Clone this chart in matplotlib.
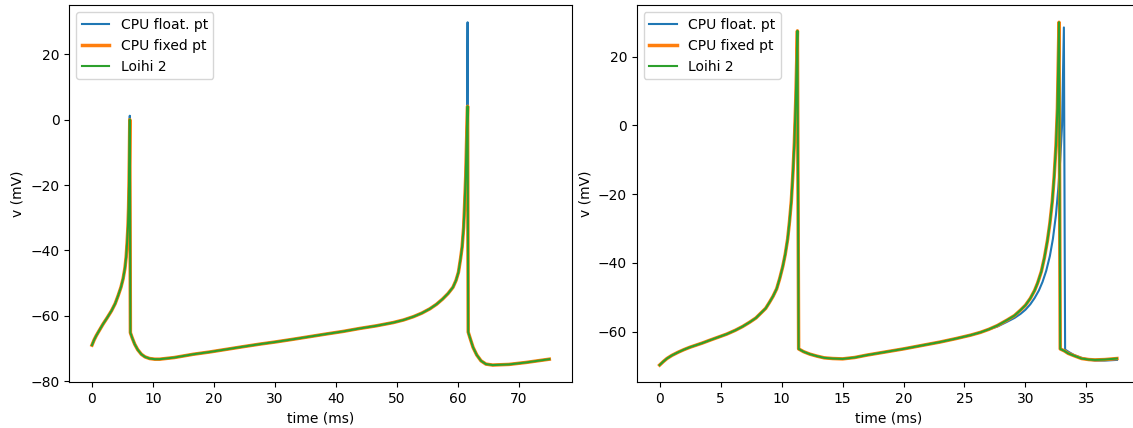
import matplotlib.pyplot as plt

# left panel: first input current
t_left = [0, 0.35, 0.7, 1.2, 1.8, 2.5, 3.2, 3.8, 4.3, 4.75, 5.1, 5.4, 5.6, 5.75, 5.9,
          6.0, 6.07, 6.13, 6.2, 6.3, 6.6, 7.0, 7.5, 8.1, 8.7, 9.45, 10.3, 11.1,
          13.5, 16.6, 19.3, 22.0, 24.7, 27.5, 30.2, 33.0, 35.7, 38.4, 41.2, 43.9,
          46.6, 49.4, 51.1, 52.7, 54.1, 55.4, 56.5, 57.5, 58.4, 59.2, 59.7, 60.1,
          60.45, 60.7, 60.95, 61.1, 61.3, 61.4, 61.5, 61.6, 61.7, 62.0, 62.5, 63.1,
          63.8, 64.6, 65.7, 67.0, 68.4, 71.2, 75.0]
v_left_fixed = [-69.0, -67.4, -66.1, -64.5, -62.6, -60.6, -58.5, -56.3, -53.8, -51.3,
                -48.7, -45.5, -42.1, -38.0, -32.8, -27.0, -20.5, -12.0, 0.0, -65.2,
                -66.8, -68.7, -70.4, -71.8, -72.6, -73.1, -73.3, -73.3,
                -72.8, -71.8, -71.1, -70.3, -69.5, -68.7, -68.0, -67.2, -66.4, -65.6,
                -64.8, -63.9, -63.1, -62.1, -61.3, -60.3, -59.2, -57.9, -56.5, -54.9,
                -53.2, -51.3, -49.2, -46.7, -42.5, -39.0, -33.0, -26.7, -17.0, -9.2,
                -2.0, 4.1, -65.0, -66.8, -69.7, -72.0, -73.8, -74.8, -75.1, -75.0,
                -74.9, -74.3, -73.3]
v_left_float = [-69.0, -67.4, -66.1, -64.5, -62.6, -60.6, -58.5, -56.3, -53.8, -51.3,
                -48.7, -45.5, -42.1, -38.0, -32.8, -27.0, -20.5, -12.0, 1.2, -65.2,
                -66.8, -68.7, -70.4, -71.8, -72.6, -73.1, -73.3, -73.3,
                -72.8, -71.8, -71.1, -70.3, -69.5, -68.7, -68.0, -67.2, -66.4, -65.6,
                -64.8, -63.9, -63.1, -62.1, -61.3, -60.3, -59.2, -57.9, -56.5, -54.9,
                -53.2, -51.3, -49.2, -46.7, -42.5, -39.0, -33.0, -26.7, -17.0, -9.2,
                -2.0, 29.8, -65.0, -66.8, -69.7, -72.0, -73.8, -74.8, -75.1, -75.0,
                -74.9, -74.3, -73.3]
v_left_loihi = v_left_fixed  # identical to fixed point trace

# right panel: second input current
t_right = [0, 0.3, 0.6, 1.0, 1.5, 2.0, 2.5, 3.0, 3.5, 4.1, 4.8, 5.5, 6.2, 6.8, 7.4,
           7.9, 8.3, 8.7, 9.0, 9.3, 9.6, 9.85, 10.1, 10.3, 10.5, 10.65, 10.8, 10.93,
           11.05, 11.17, 11.3, 11.4, 11.8, 12.3, 12.9, 13.5, 14.2, 15.0, 16.0, 17.0,
           18.5, 20.0, 21.5, 23.0, 24.3, 25.5, 26.3, 27.0, 27.7, 28.5, 29.1, 29.6,
           30.0, 30.4, 30.75, 31.0, 31.3, 31.55, 31.8, 32.0, 32.2, 32.35, 32.5, 32.62,
           32.75, 32.85, 33.2, 33.5, 34.0, 34.6, 35.2, 35.7, 36.5, 37.5]
v_right_fixed = [-69.7, -68.7, -67.8, -66.9, -66.0, -65.2, -64.5, -63.9, -63.3, -62.5,
                 -61.6, -60.7, -59.6, -58.5, -57.2, -56.0, -54.6, -53.2, -51.5, -49.7,
                 -47.5, -44.5, -41.0, -37.5, -33.0, -28.0, -22.0, -14.0, -5.0, 8.0,
                 27.5, -65.0, -65.8, -66.5, -67.1, -67.6, -67.8, -67.9, -67.5, -66.8,
                 -65.9, -65.0, -64.0, -63.0, -62.0, -61.0, -60.2, -59.3, -58.2, -56.6,
                 -55.3, -53.7, -52.3, -50.3, -48.0, -45.8, -42.5, -38.5, -33.5, -28.5,
                 -22.0, -15.0, -6.0, 5.0, 30.0, -65.0, -65.6, -66.3, -67.0, -67.8,
                 -68.1, -68.2, -68.1, -67.8]
v_right_loihi = v_right_fixed  # identical to fixed point trace

t_right_float = [0, 0.3, 0.6, 1.0, 1.5, 2.0, 2.5, 3.0, 3.5, 4.1, 4.8, 5.5, 6.2, 6.8,
                 7.4, 7.9, 8.3, 8.7, 9.0, 9.3, 9.6, 9.85, 10.1, 10.3, 10.5, 10.65, 10.8,
                 10.93, 11.05, 11.17, 11.3, 11.4, 11.8, 12.3, 12.9, 13.5, 14.2, 15.0,
                 16.0, 17.0, 18.5, 20.0, 21.5, 23.0, 24.3, 25.5, 26.3, 27.0, 27.7,
                 28.5, 29.1, 29.6, 30.0, 30.4, 30.75, 31.1, 31.4, 31.7, 32.0, 32.25,
                 32.5, 32.7, 32.85, 33.0, 33.15, 33.25, 33.6, 34.0, 34.6, 35.2, 35.7,
                 36.5, 37.5]
v_right_float = [-69.7, -68.7, -67.8, -66.9, -66.0, -65.2, -64.5, -63.9, -63.3, -62.5,
                 -61.6, -60.7, -59.6, -58.5, -57.2, -56.0, -54.6, -53.2, -51.5, -49.7,
                 -47.5, -44.5, -41.0, -37.5, -33.0, -28.0, -22.0, -14.0, -5.0, 8.0,
                 27.5, -65.0, -65.8, -66.5, -67.1, -67.6, -67.8, -67.9, -67.5, -66.8,
                 -65.9, -65.0, -64.0, -63.0, -62.0, -61.0, -60.2, -59.3, -58.5, -57.1,
                 -56.0, -54.8, -53.6, -52.0, -50.2, -48.0, -45.5, -42.3, -38.0, -33.0,
                 -26.0, -18.0, -10.0, 0.0, 28.5, -65.2, -66.0, -66.8, -67.6, -68.1,
                 -68.4, -68.4, -68.2]

labels = ["CPU float. pt", "CPU fixed pt", "Loihi 2"]

fig = plt.figure(figsize=(11.33, 4.28), dpi=100)
ax1 = fig.add_axes([0.061, 0.107, 0.444, 0.881])
# same size as the left panel; its right edge runs just past the canvas
ax2 = fig.add_axes([0.562, 0.107, 0.444, 0.881])

panels = [(ax1, t_left, v_left_float, t_left, v_left_fixed, v_left_loihi),
          (ax2, t_right_float, v_right_float, t_right, v_right_fixed, v_right_loihi)]

for ax, tf, vf, tx, vx, vl in panels:
    ax.plot(tf, vf, color="C0", lw=1.5, label=labels[0])
    ax.plot(tx, vx, color="C1", lw=2.5, label=labels[1])
    ax.plot(tx, vl, color="C2", lw=1.5, label=labels[2])
    ax.set_xlabel("time (ms)")
    ax.set_ylabel("v (mV)")
    ax.legend(loc="upper left")

fig.savefig("out.png", dpi=100)
